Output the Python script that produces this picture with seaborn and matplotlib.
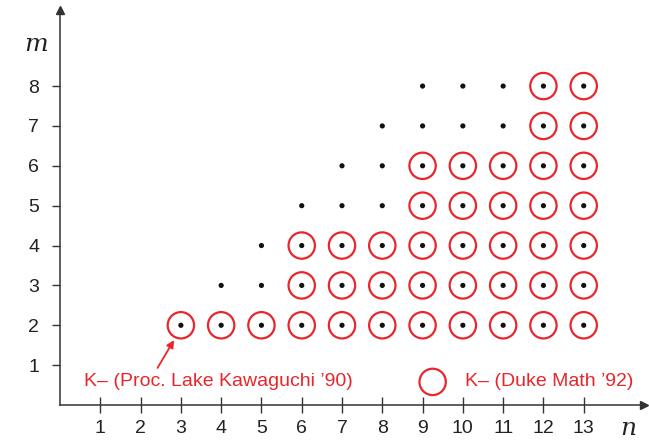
import numpy as np
import pandas as pd
import matplotlib
matplotlib.use('Agg')
import matplotlib.pyplot as plt
import seaborn as sns

sns.set_style('white')
plt.rcParams['font.family'] = ['Liberation Sans', 'DejaVu Sans']

### values
n_cols = [3, 4, 5, 6, 7, 8, 9, 10, 11, 12, 13]
dot_top = [2, 3, 4, 5, 6, 7, 8, 8, 8, 8, 8]      # black dots for m = 2..top
circle_top = [2, 2, 2, 4, 4, 4, 6, 6, 6, 8, 8]   # red circles for m = 2..top
m_bottom = 2
x_ticks = list(range(1, 14))
y_ticks = list(range(1, 9))
label_lake = 'K\u2013 (Proc. Lake Kawaguchi \u201990)'
label_duke = 'K\u2013 (Duke Math \u201992)'

dots = pd.DataFrame([(n, m) for n, t in zip(n_cols, dot_top) for m in range(m_bottom, t + 1)],
                    columns=['n', 'm'])
circles = pd.DataFrame([(n, m) for n, t in zip(n_cols, circle_top) for m in range(m_bottom, t + 1)],
                       columns=['n', 'm'])

red = '#e8262b'
axcol = '#333333'
txtcol = '#222222'

fig = plt.figure(figsize=(6.49, 4.41), dpi=100)
ax = fig.add_axes([0.0925, 0.0816, 0.9, 0.895])

sns.scatterplot(data=circles, x='n', y='m', ax=ax, s=360, marker='o',
                facecolor='none', edgecolor=red, linewidth=1.6, zorder=2)
sns.scatterplot(data=dots, x='n', y='m', ax=ax, s=14, color='#111111',
                edgecolor='none', zorder=3)

ax.set_xlim(0, 14.5)
ax.set_ylim(0, 9.9)
ax.set_xticks(x_ticks)
ax.set_yticks(y_ticks)
ax.set_xlabel('')
ax.set_ylabel('')
for s in ['top', 'right']:
    ax.spines[s].set_visible(False)
for s in ['left', 'bottom']:
    ax.spines[s].set_color(axcol)
    ax.spines[s].set_linewidth(1.1)
ax.tick_params(axis='x', bottom=True, direction='inout', length=12, width=1, color=axcol,
               labelsize=14, labelcolor=txtcol, pad=5)
ax.tick_params(axis='y', left=True, direction='out', length=6, width=1, color=axcol,
               labelsize=14, labelcolor=txtcol, pad=9)

# axis arrowheads
ax.plot(1, 0, '>', color=axcol, markersize=6, transform=ax.get_yaxis_transform(), clip_on=False)
ax.plot(0, 1, '^', color=axcol, markersize=6, transform=ax.get_xaxis_transform(), clip_on=False)

ax.text(-0.6, 9.05, 'm', family='DejaVu Serif', style='italic', fontsize=18,
        color=txtcol, ha='center', va='center')
ax.text(14.1, -0.6, 'n', family='DejaVu Serif', style='italic', fontsize=18,
        color=txtcol, ha='center', va='center')

# annotations
ax.text(0.6, 0.58, label_lake, color=red, fontsize=14, va='center', ha='left')
ax.annotate('', xy=(2.83, 1.63), xytext=(2.42, 0.93),
            arrowprops=dict(arrowstyle='-|>', color=red, lw=1.3, mutation_scale=11,
                            shrinkA=0, shrinkB=0))
ax.scatter([9.25], [0.58], s=360, marker='o', facecolor='none', edgecolor=red,
           linewidth=1.6, clip_on=False)
ax.text(10.05, 0.58, label_duke, color=red, fontsize=14, va='center', ha='left')

plt.savefig('out.png', dpi=100)
